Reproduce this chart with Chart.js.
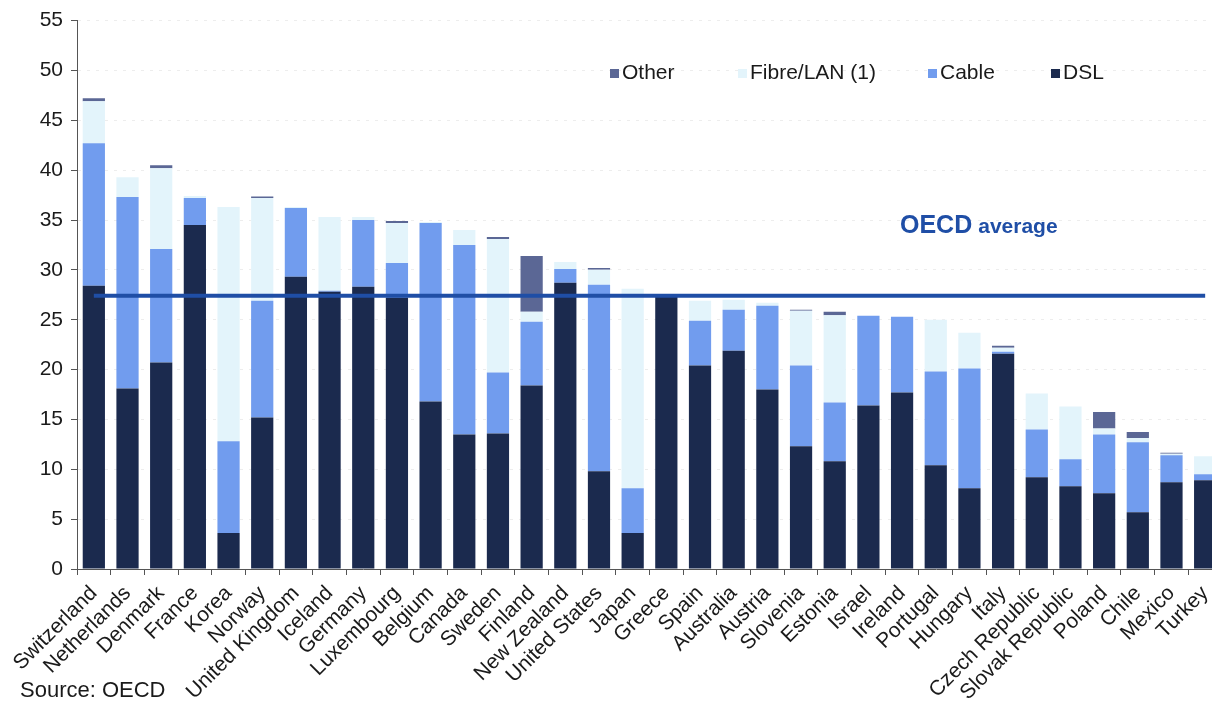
<!DOCTYPE html>
<html>
<head>
<meta charset="utf-8">
<script src="https://cdn.jsdelivr.net/npm/chart.js@4.4.1/dist/chart.umd.min.js"></script>
<style>
  html, body { margin: 0; padding: 0; background: #ffffff; overflow: hidden; width: 1212px; height: 706px; }
  #wrap { position: absolute; left: 0; top: 0; width: 1232px; height: 706px; }
</style>
</head>
<body>
<div id="wrap"><canvas id="chart" width="1232" height="706"></canvas></div>
<script>
// Broadband subscribers per 100 inhabitants, by technology
const categories = [
  'Switzerland', 'Netherlands', 'Denmark', 'France', 'Korea', 'Norway',
  'United Kingdom', 'Iceland', 'Germany', 'Luxembourg', 'Belgium', 'Canada',
  'Sweden', 'Finland', 'New Zealand', 'United States', 'Japan', 'Greece',
  'Spain', 'Australia', 'Austria', 'Slovenia', 'Estonia', 'Israel',
  'Ireland', 'Portugal', 'Hungary', 'Italy', 'Czech Republic', 'Slovak Republic',
  'Poland', 'Chile', 'Mexico', 'Turkey'
];

const dsl = [
  28.4, 18.1, 20.7, 34.5, 3.6, 15.2,
  29.3, 27.8, 28.3, 27.2, 16.8, 13.5,
  13.6, 18.4, 28.7, 9.8, 3.6, 27.3,
  20.4, 21.9, 18.0, 12.3, 10.8, 16.4,
  17.7, 10.4, 8.1, 21.6, 9.2, 8.3,
  7.6, 5.7, 8.7, 8.9
];

const cable = [
  14.3, 19.2, 11.4, 2.7, 9.2, 11.7,
  6.9, 0.1, 6.7, 3.5, 17.9, 19.0,
  6.1, 6.4, 1.4, 18.7, 4.5, 0.0,
  4.5, 4.1, 8.4, 8.1, 5.9, 9.0,
  7.6, 9.4, 12.0, 0.2, 4.8, 2.7,
  5.9, 7.0, 2.7, 0.6
];

const fibreLan = [
  4.2, 2.0, 8.1, 0.2, 23.5, 10.3,
  0.1, 7.4, 0.3, 4.0, 0.1, 1.5,
  13.4, 1.0, 0.7, 1.5, 20.0, 0.1,
  2.0, 1.0, 0.3, 5.5, 8.75, 0.0,
  0.0, 5.2, 3.6, 0.4, 3.6, 5.3,
  0.6, 0.45, 0.15, 1.8
];

const other = [
  0.3, 0.0, 0.3, 0.0, 0.0, 0.15,
  0.0, 0.0, 0.0, 0.2, 0.0, 0.0,
  0.2, 5.6, 0.0, 0.2, 0.0, 0.0,
  0.0, 0.0, 0.0, 0.1, 0.35, 0.0,
  0.0, 0.0, 0.0, 0.2, 0.0, 0.0,
  1.65, 0.6, 0.1, 0.0
];

const oecdAverage = 27.4;
const yTicks = [0, 5, 10, 15, 20, 25, 30, 35, 40, 45, 50, 55];

const COLORS = {
  dsl: '#1b2a4e',
  cable: '#719cee',
  fibre: '#e3f4fb',
  other: '#5b6795',
  avg: '#1f4ea6',
  text: '#1a1a1a'
};
const FONT = '"Liberation Sans", Arial, sans-serif';

// Legend, average label and source note drawn on top of the plot
const overlay = {
  id: 'overlay',
  afterDraw(chart) {
    const ctx = chart.ctx;
    ctx.save();
    ctx.textBaseline = 'middle';
    ctx.textAlign = 'left';
    ctx.font = '21px ' + FONT;
    const legendY = 73;
    const items = [
      { label: 'Other', color: COLORS.other, x: 610 },
      { label: 'Fibre/LAN (1)', color: COLORS.fibre, x: 738 },
      { label: 'Cable', color: COLORS.cable, x: 928 },
      { label: 'DSL', color: COLORS.dsl, x: 1051 }
    ];
    items.forEach(it => {
      ctx.fillStyle = it.color;
      ctx.fillRect(it.x, legendY - 4, 9, 9);
      ctx.fillStyle = COLORS.text;
      ctx.fillText(it.label, it.x + 12, legendY);
    });

    ctx.fillStyle = COLORS.avg;
    ctx.font = 'bold 25px ' + FONT;
    ctx.textBaseline = 'alphabetic';
    ctx.fillText('OECD', 900, 233);
    const w = ctx.measureText('OECD').width + 6;
    ctx.font = 'bold 21px ' + FONT;
    ctx.fillText('average', 900 + w, 233);

    ctx.fillStyle = COLORS.text;
    ctx.font = '22px ' + FONT;
    ctx.textBaseline = 'middle';
    ctx.fillText('Source: OECD', 20, 691);
    ctx.restore();
  }
};

const barDefaults = {
  type: 'bar',
  stack: 'tech',
  barPercentage: 0.66,
  categoryPercentage: 1.0,
  borderWidth: 0,
  order: 1
};

new Chart(document.getElementById('chart'), {
  data: {
    labels: categories,
    datasets: [
      Object.assign({}, barDefaults, { label: 'DSL', data: dsl, backgroundColor: COLORS.dsl }),
      Object.assign({}, barDefaults, { label: 'Cable', data: cable, backgroundColor: COLORS.cable }),
      Object.assign({}, barDefaults, { label: 'Fibre/LAN (1)', data: fibreLan, backgroundColor: COLORS.fibre }),
      Object.assign({}, barDefaults, { label: 'Other', data: other, backgroundColor: COLORS.other }),
      {
        type: 'line',
        label: 'OECD average',
        stack: 'avg',
        data: categories.map(() => oecdAverage),
        borderColor: COLORS.avg,
        borderWidth: 4,
        pointRadius: 0,
        fill: false,
        order: 0
      }
    ]
  },
  options: {
    responsive: false,
    animation: false,
    devicePixelRatio: 1,
    layout: { padding: { top: 20, right: 10, left: 0, bottom: 0 } },
    plugins: {
      legend: { display: false },
      tooltip: { enabled: false }
    },
    scales: {
      x: {
        stacked: true,
        offset: true,
        grid: {
          offset: true,
          drawOnChartArea: false,
          drawTicks: true,
          tickLength: 6,
          tickColor: '#555555',
          tickWidth: 1
        },
        border: { display: true, color: '#555555', width: 1 },
        ticks: {
          autoSkip: false,
          maxRotation: 45,
          minRotation: 45,
          padding: 6,
          color: COLORS.text,
          font: { family: FONT, size: 21 }
        },
        afterFit(scale) {
          scale.height = 137;
          scale.paddingLeft = 0;
          scale.paddingRight = 0;
        }
      },
      y: {
        stacked: true,
        min: 0,
        max: 55,
        afterBuildTicks(scale) {
          scale.ticks = yTicks.map(v => ({ value: v }));
        },
        grid: {
          color: 'rgba(0,0,0,0.07)',
          lineWidth: 1,
          drawTicks: true,
          tickLength: 6,
          tickColor: '#555555',
          tickBorderDash: [1, 0]
        },
        border: { display: true, color: '#555555', width: 1, dash: [3, 6] },
        ticks: {
          padding: 8,
          color: COLORS.text,
          font: { family: FONT, size: 21 }
        },
        afterFit(scale) {
          scale.width = 77;
        }
      }
    }
  },
  plugins: [overlay]
});
</script>
</body>
</html>
